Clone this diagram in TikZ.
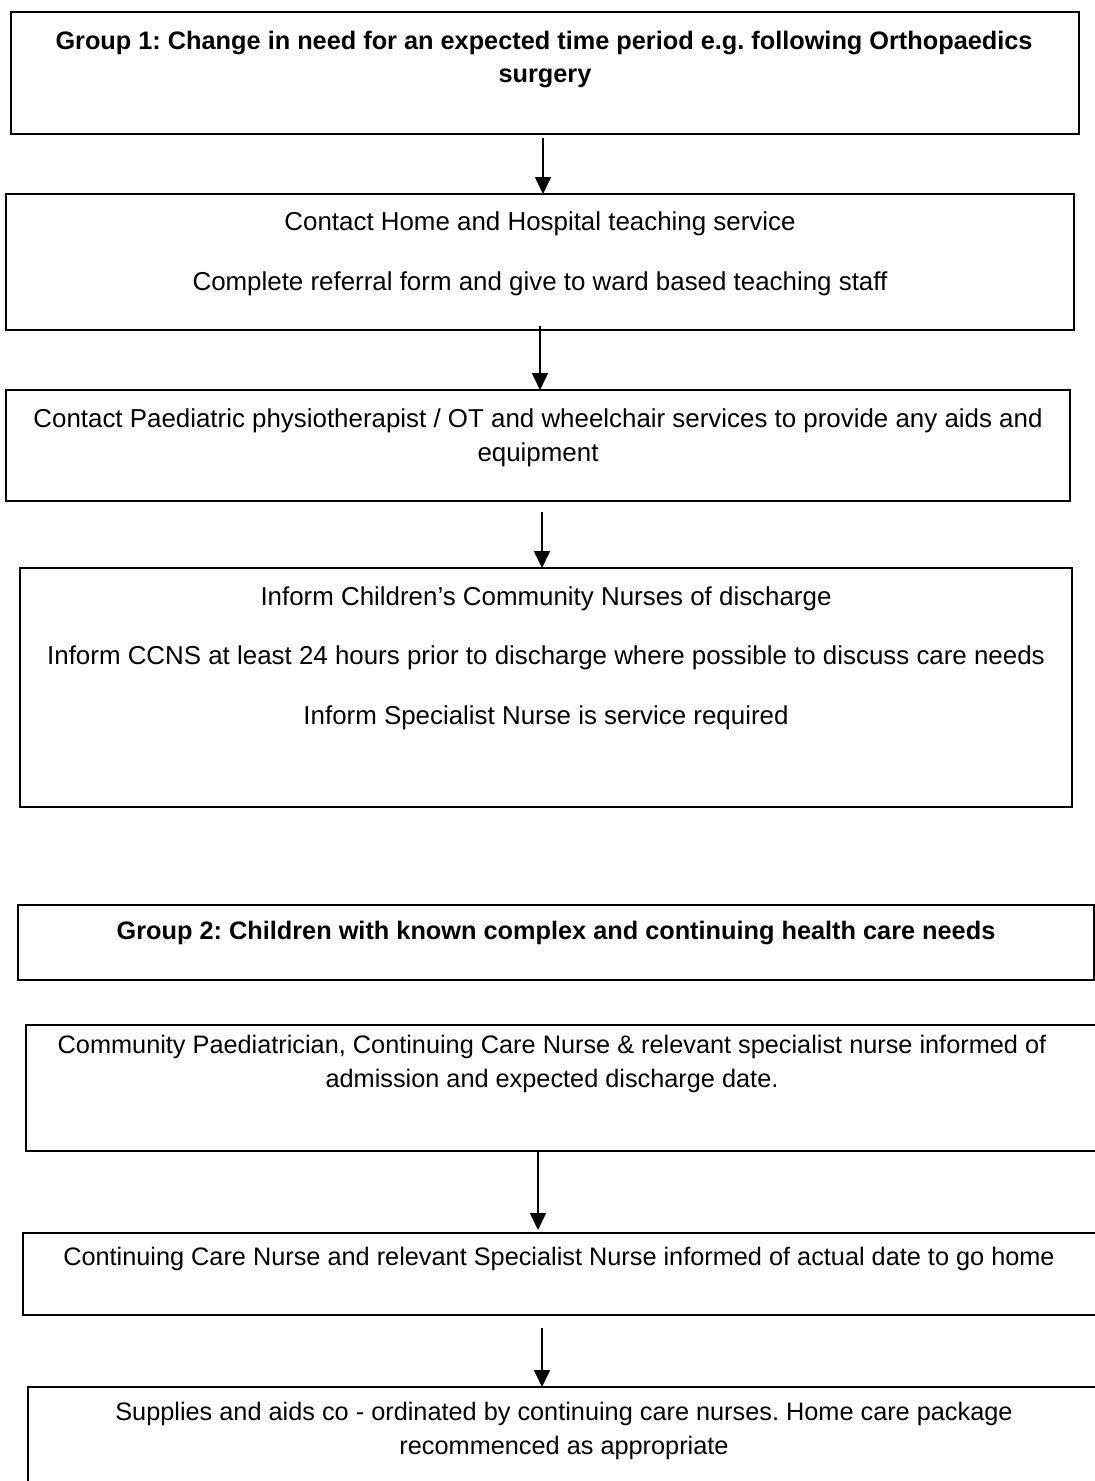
\documentclass[tikz,border=0pt]{standalone}
\usepackage{fontspec}
\setmainfont{Liberation Sans}
\usetikzlibrary{arrows.meta}
\frenchspacing
\tikzset{
  box/.style={draw=black, line width=1.6pt, rectangle, inner sep=0pt, outer sep=0pt, anchor=north west},
  txt/.style={inner sep=0pt, anchor=base, font=\fontsize{25.9}{30}\selectfont},
  txtb/.style={inner sep=0pt, anchor=base, font=\fontsize{25.3}{30}\selectfont},
  btxt/.style={txt, font=\fontsize{25.3}{30}\selectfont\bfseries},
  arr/.style={line width=1.6pt, -{Triangle[width=16pt,length=17pt]}}
}
\begin{document}
\begin{tikzpicture}[x=1pt,y=-1pt]
\useasboundingbox (0,0) rectangle (1095,1481);
\clip (0,0) rectangle (1095,1481);
% boxes
\node[box, minimum width=1068pt, minimum height=122pt] (b1) at (11,12) {};
\node[box, minimum width=1068pt, minimum height=136pt] (b2) at (6,194) {};
\node[box, minimum width=1064pt, minimum height=111pt] (b3) at (6,390) {};
\node[box, minimum width=1052pt, minimum height=239pt] (b4) at (20,568) {};
\node[box, minimum width=1076pt, minimum height=75pt] (b5) at (18,905) {};
\node[box, minimum width=1084pt, minimum height=126pt] (b6) at (26,1025) {};
\node[box, minimum width=1087pt, minimum height=82pt] (b7) at (23,1233) {};
\node[box, minimum width=1082pt, minimum height=130pt] (b8) at (28,1387) {};
% texts
\node[btxt] (t1a) at (544,49) {Group 1: Change in need for an expected time period e.g. following Orthopaedics};
\node[btxt] (t1b) at (545,82) {surgery};
\node[txt] (t2a) at (540,230) {Contact Home and Hospital teaching service};
\node[txt] (t2b) at (540,290) {Complete referral form and give to ward based teaching staff};
\node[txt] (t3a) at (538,427) {Contact Paediatric physiotherapist / OT and wheelchair services to provide any aids and};
\node[txt] (t3b) at (538,461) {equipment};
\node[txt] (t4a) at (546,605) {Inform Children’s Community Nurses of discharge};
\node[txt] (t4b) at (546,664) {Inform CCNS at least 24 hours prior to discharge where possible to discuss care needs};
\node[txt] (t4c) at (546,724) {Inform Specialist Nurse is service required};
\node[btxt] (t5a) at (556,939) {Group 2: Children with known complex and continuing health care needs};
\node[txtb] (t6a) at (552,1053) {Community Paediatrician, Continuing Care Nurse \& relevant specialist nurse informed of};
\node[txtb] (t6b) at (552,1087) {admission and expected discharge date.};
\node[txtb] (t7a) at (559,1265) {Continuing Care Nurse and relevant Specialist Nurse informed of actual date to go home};
\node[txtb] (t8a) at (564,1420) {Supplies and aids co - ordinated by continuing care nurses. Home care package};
\node[txtb] (t8b) at (564,1454) {recommenced as appropriate};
% arrows
\draw[arr] ([xshift=-2pt,yshift=-4pt]b1.south) -- ([xshift=-2pt]b1.south |- b2.north);
\draw[arr] ([yshift=4pt]b2.south) -- (b2.south |- b3.north);
\draw[arr] ([xshift=4pt,yshift=-11pt]b3.south) -- ([xshift=4pt]b3.south |- b4.north);
\draw[arr] ([xshift=-30pt]b6.south) -- ([xshift=-30pt,yshift=3pt]b6.south |- b7.north);
\draw[arr] ([xshift=-24.5pt,yshift=-13pt]b7.south) -- ([xshift=-24.5pt]b7.south |- b8.north);
\end{tikzpicture}
\end{document}
